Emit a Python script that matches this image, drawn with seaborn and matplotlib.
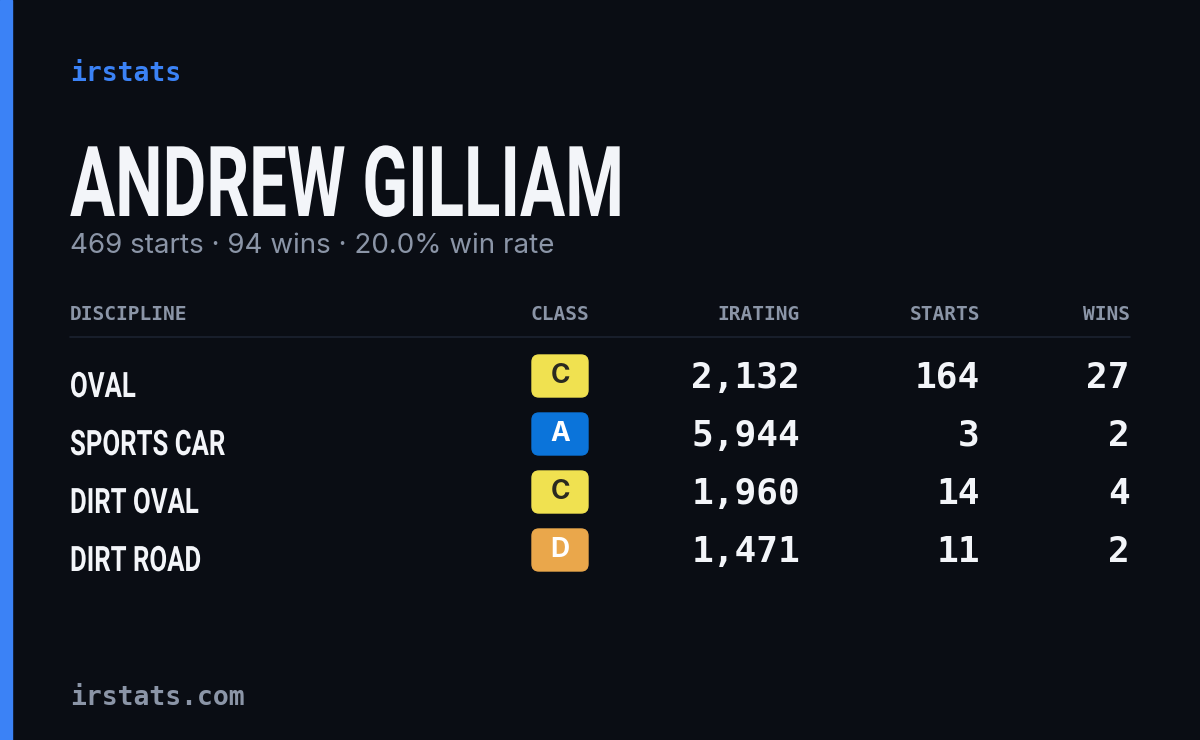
import matplotlib
matplotlib.use("Agg")
import matplotlib.pyplot as plt
from matplotlib.patches import FancyBboxPatch, Rectangle, PathPatch
from matplotlib.textpath import TextPath
from matplotlib.font_manager import FontProperties
from matplotlib.transforms import Affine2D
import seaborn as sns

# card data
player = "ANDREW GILLIAM"
total_starts = 469
total_wins = 94
disciplines = ["OVAL", "SPORTS CAR", "DIRT OVAL", "DIRT ROAD"]
classes = ["C", "A", "C", "D"]
iratings = [2132, 5944, 1960, 1471]
starts = [164, 3, 14, 11]
wins = [27, 2, 4, 2]
headers = ["DISCIPLINE", "CLASS", "IRATING", "STARTS", "WINS"]

BG = "#0a0d14"
GREY = "#8b95a7"
WHITE = "#f3f5f9"
class_colors = {"C": "#f0e150", "A": "#0b74da", "D": "#eaa74b"}
class_text = {"C": "#2a2a20", "A": "#ffffff", "D": "#ffffff"}

sns.set_style("dark", {"axes.facecolor": BG, "figure.facecolor": BG})
mono = ["DejaVu Sans Mono"]
sans = ["Inter", "Noto Sans", "DejaVu Sans"]
bold_prop = FontProperties(family="Roboto", weight="bold")

fig = plt.figure(figsize=(12, 7.4), dpi=100)
ax = fig.add_axes([0, 0, 1, 1])
ax.set_xlim(0, 1200)
ax.set_ylim(740, 0)
ax.axis("off")


def narrow_text(x, baseline, s, size_px, squeeze=0.7, color=WHITE):
    # condensed look: draw the glyph outlines squeezed horizontally
    path = TextPath((0, 0), s, size=size_px, prop=bold_prop)
    tr = Affine2D().scale(squeeze, -1).translate(x, baseline) + ax.transData
    ax.add_patch(PathPatch(path, facecolor=color, edgecolor="none", transform=tr))


ax.add_patch(Rectangle((0, 0), 12, 740, color="#3b82f6"))
ax.text(70, 74, "irstats", color="#3b82f6", fontsize=19, family=mono, weight="bold", va="center")
narrow_text(70, 216, player, 98, 0.685)
rate = 100 * total_wins / total_starts
ax.text(70, 246, f"{total_starts} starts · {total_wins} wins · {rate:.1f}% win rate",
        color=GREY, fontsize=20, family=sans, va="center")

# header
col_x = [70, 560, 800, 980, 1130]
col_ha = ["left", "center", "right", "right", "right"]
for h, x, ha in zip(headers, col_x, col_ha):
    ax.text(x, 314, h, color=GREY, fontsize=14, family=mono, weight="bold", ha=ha, va="center")
ax.plot([70, 1130], [337, 337], color="#1c2230", lw=1.2)

for i, (d, c, ir, s, w) in enumerate(zip(disciplines, classes, iratings, starts, wins)):
    y = 378 + i * 58
    narrow_text(70, y + 19, d, 35, 0.735)
    ax.add_patch(FancyBboxPatch((532, y - 23), 56, 42, boxstyle="round,pad=0,rounding_size=7",
                                color=class_colors[c]))
    ax.text(560, y - 2, c, color=class_text[c], fontsize=19, family=sans, weight="bold",
            ha="center", va="center")
    for val, x in zip([f"{ir:,}", str(s), str(w)], col_x[2:]):
        ax.text(x, y, val, color=WHITE, fontsize=26, family=mono, weight="bold", ha="right", va="center")

ax.text(70, 698, "irstats.com", color=GREY, fontsize=19, family=mono, weight="bold", va="center")

fig.savefig("out.png", dpi=100, facecolor=BG)
